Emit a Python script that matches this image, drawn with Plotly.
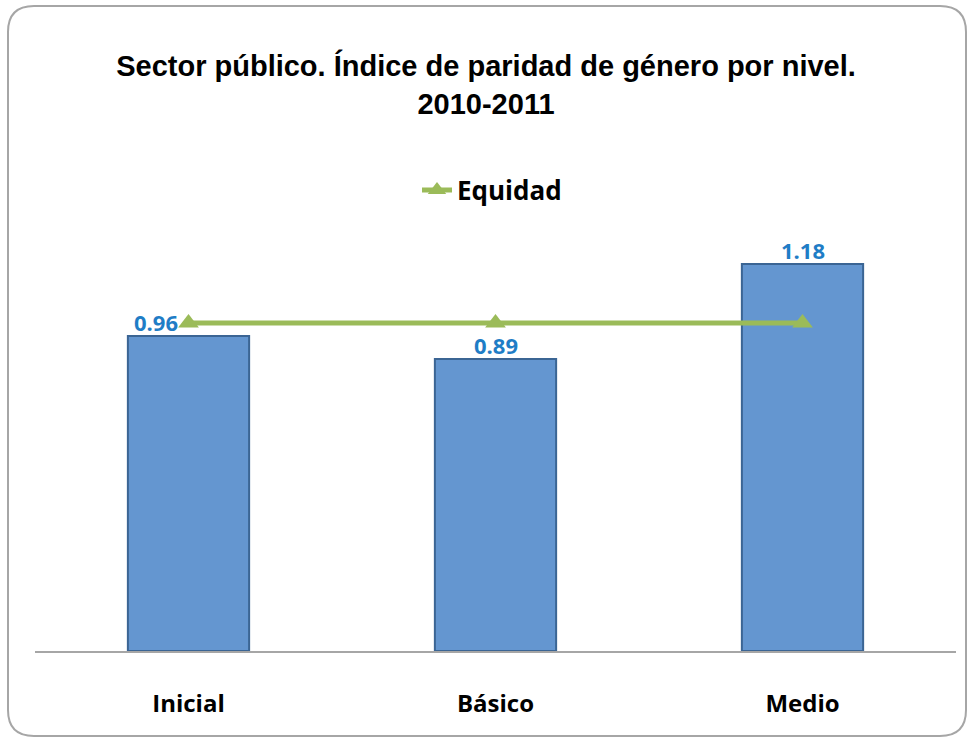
import plotly.graph_objects as go

# data
niveles = ["Inicial", "Básico", "Medio"]
indice = [0.96, 0.89, 1.18]
equidad = [1.0, 1.0, 1.0]
etiquetas = ["0.96", "0.89", "1.18"]

W, H = 972, 740
ML, MR, MT, MB = 35, 16, 225, 89
PW, PH = W - ML - MR, H - MT - MB
YMAX = 1.2988
FONT = "Open Sans, Lato, sans-serif"


def px(x):
    return (x - ML) / PW


def py(y):
    return (H - MB - y) / PH


fig = go.Figure()

fig.add_trace(go.Bar(
    x=niveles, y=indice, width=0.395,
    marker=dict(color="#6496D0", line=dict(color="#3B6594", width=2)),
    showlegend=False, hoverinfo="y",
))

fig.add_trace(go.Scatter(
    x=niveles, y=equidad, mode="lines+markers", name="Equidad",
    line=dict(color="#9BBB59", width=5),
    marker=dict(symbol="triangle-up", size=18, color="#9BBB59"),
))

# value labels
shifts = [-33, 0, 0]
for n, v, t, s in zip(niveles, indice, etiquetas, shifts):
    fig.add_annotation(
        x=n, y=v, text=t, showarrow=False, xshift=s, yshift=14,
        font=dict(family=FONT, size=22, color="#1F7DC6", weight="bold"),
    )

# rounded frame around the chart
x0, x1, y0, y1, r = 8, 966, 6, 736, 26
path = (
    f"M {px(x0 + r)} {py(y0)} L {px(x1 - r)} {py(y0)} "
    f"Q {px(x1)} {py(y0)} {px(x1)} {py(y0 + r)} "
    f"L {px(x1)} {py(y1 - r)} Q {px(x1)} {py(y1)} {px(x1 - r)} {py(y1)} "
    f"L {px(x0 + r)} {py(y1)} Q {px(x0)} {py(y1)} {px(x0)} {py(y1 - r)} "
    f"L {px(x0)} {py(y0 + r)} Q {px(x0)} {py(y0)} {px(x0 + r)} {py(y0)} Z"
)
fig.add_shape(type="path", path=path, xref="paper", yref="paper",
              line=dict(color="#A6A6A6", width=2), layer="below")

fig.update_layout(
    width=W, height=H,
    margin=dict(l=ML, r=MR, t=MT, b=MB),
    paper_bgcolor="white", plot_bgcolor="white",
    title=dict(
        text="Sector público. Índice de paridad de género por nivel.<br>2010-2011",
        x=0.5, xanchor="center", y=1 - 76 / H, yanchor="middle",
        font=dict(family="Liberation Sans, Arial, sans-serif", size=29, color="black", weight="bold"),
    ),
    legend=dict(
        orientation="h", x=px(492), xanchor="center", y=py(190), yanchor="middle",
        font=dict(family=FONT, size=26, color="black", weight="bold"),
        bgcolor="rgba(0,0,0,0)",
    ),
    xaxis=dict(
        showline=True, linecolor="#A6A6A6", linewidth=2, ticks="",
        tickfont=dict(family=FONT, size=24, color="black", weight="bold"),
        ticklabelstandoff=30,
    ),
    yaxis=dict(range=[0, YMAX], visible=False, showgrid=False),
    bargap=0.5,
)

# drop the default 8px page margin so the figure sits at the window origin
fig.write_html("out.html", config={"displayModeBar": False},
               post_script="document.body.style.margin='0';")
